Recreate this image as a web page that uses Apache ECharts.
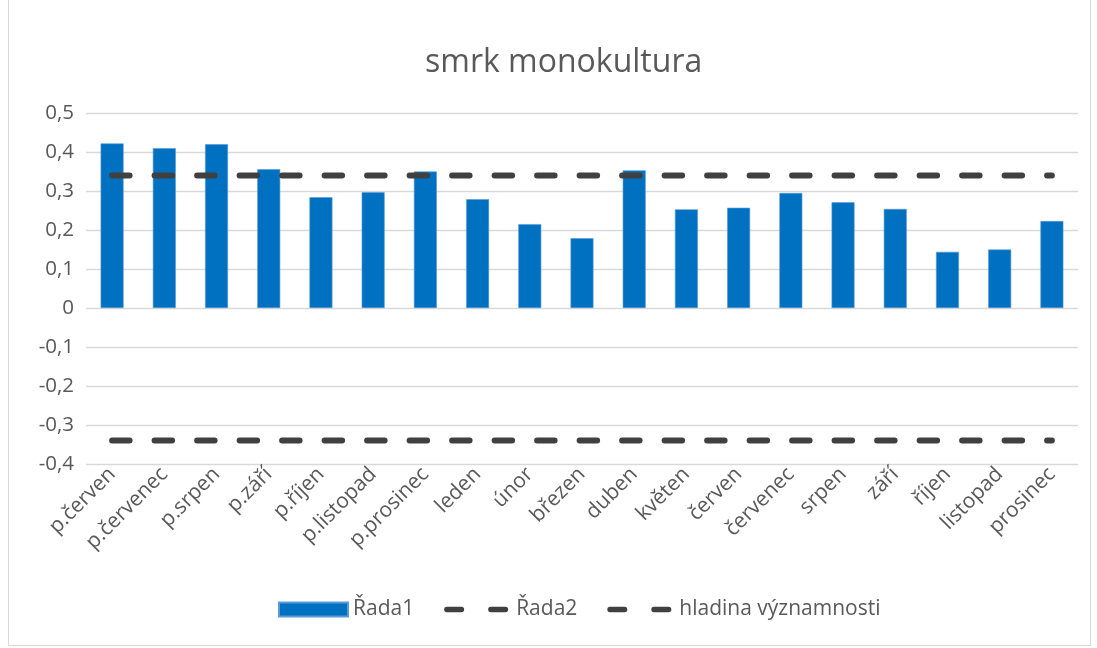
<!DOCTYPE html>
<html>
<head>
<meta charset="utf-8">
<script src="https://cdn.jsdelivr.net/npm/echarts@6/dist/echarts.min.js"></script>
<style>
html,body{margin:0;padding:0;background:#fff;}
#frame{position:absolute;left:8px;top:-2px;width:1083px;height:648px;border:1px solid #d9d9d9;box-sizing:border-box;}
#chart{position:absolute;left:0;top:0;width:1097px;height:648px;}
</style>
</head>
<body>
<div id="frame"></div>
<div id="chart"></div>
<script>
const categories = ["p.červen","p.červenec","p.srpen","p.září","p.říjen","p.listopad","p.prosinec","leden","únor","březen","duben","květen","červen","červenec","srpen","září","říjen","listopad","prosinec"];
const rada1 = [0.422,0.410,0.420,0.356,0.284,0.297,0.350,0.279,0.215,0.179,0.353,0.253,0.257,0.295,0.271,0.254,0.144,0.150,0.223];
const rada2Value = 0.34;
const hladinaValue = -0.34;
const rada2 = categories.map(() => rada2Value);
const hladina = categories.map(() => hladinaValue);
const seriesNames = ["Řada1","Řada2","hladina významnosti"];
const chartTitle = "smrk monokultura";

const chart = echarts.init(document.getElementById('chart'), null, {renderer:'canvas'});
const font = "'Open Sans', sans-serif";
const dashStyle = {color:'#404040', width:6, type:[17.5,25], cap:'round'};
const dashIcon = 'path://M0,0h0.01v0.01h-0.01z M68.99,13.99h0.01v0.01h-0.01z ' +
  'M4.65,4.35h14.7a2.65,2.65 0 0 1 0,5.3h-14.7a2.65,2.65 0 0 1 0,-5.3z ' +
  'M48.65,4.35h14.7a2.65,2.65 0 0 1 0,5.3h-14.7a2.65,2.65 0 0 1 0,-5.3z';
chart.setOption({
  animation:false,
  backgroundColor:'transparent',
  title:{text:chartTitle,left:420,top:42,textStyle:{fontFamily:font,fontSize:32,fontWeight:'normal',color:'#595959'}},
  legend:{
    top:594,left:273,itemGap:28,
    textStyle:{fontFamily:font,fontSize:21,color:'#595959'},
    data:[
      {name:seriesNames[0],icon:'rect',itemStyle:{color:'#0070C0'}},
      {name:seriesNames[1],icon:dashIcon,itemStyle:{color:'#404040'}},
      {name:seriesNames[2],icon:dashIcon,itemStyle:{color:'#404040'}}
    ],
    itemWidth:69,itemHeight:14
  },
  grid:{left:86,right:19,top:113,bottom:184,containLabel:false},
  xAxis:{
    type:'category',data:categories,
    axisLine:{show:false},axisTick:{show:false},
    axisLabel:{rotate:45,fontFamily:font,fontSize:21,color:'#595959',margin:7,interval:0}
  },
  yAxis:{
    type:'value',min:-0.4,max:0.5,interval:0.1,
    axisLine:{show:false},axisTick:{show:false},
    splitLine:{lineStyle:{color:'#d9d9d9',width:1.3}},
    axisLabel:{fontFamily:font,fontSize:20.5,color:'#595959',margin:12,
      formatter:v=>{const r=Math.round(v*10)/10; return r===0?'0':r.toFixed(1).replace('.',',');}}
  },
  series:[
    {name:seriesNames[0],type:'bar',data:rada1,barWidth:'44%',itemStyle:{color:'#0070C0',borderColor:'#5b9bd5',borderWidth:0.6}},
    {name:seriesNames[1],type:'line',data:rada2,symbol:'none',lineStyle:dashStyle,itemStyle:{color:'#404040'},z:5},
    {name:seriesNames[2],type:'line',data:hladina,symbol:'none',lineStyle:dashStyle,itemStyle:{color:'#404040'},z:5}
  ]
});
</script>
</body>
</html>
